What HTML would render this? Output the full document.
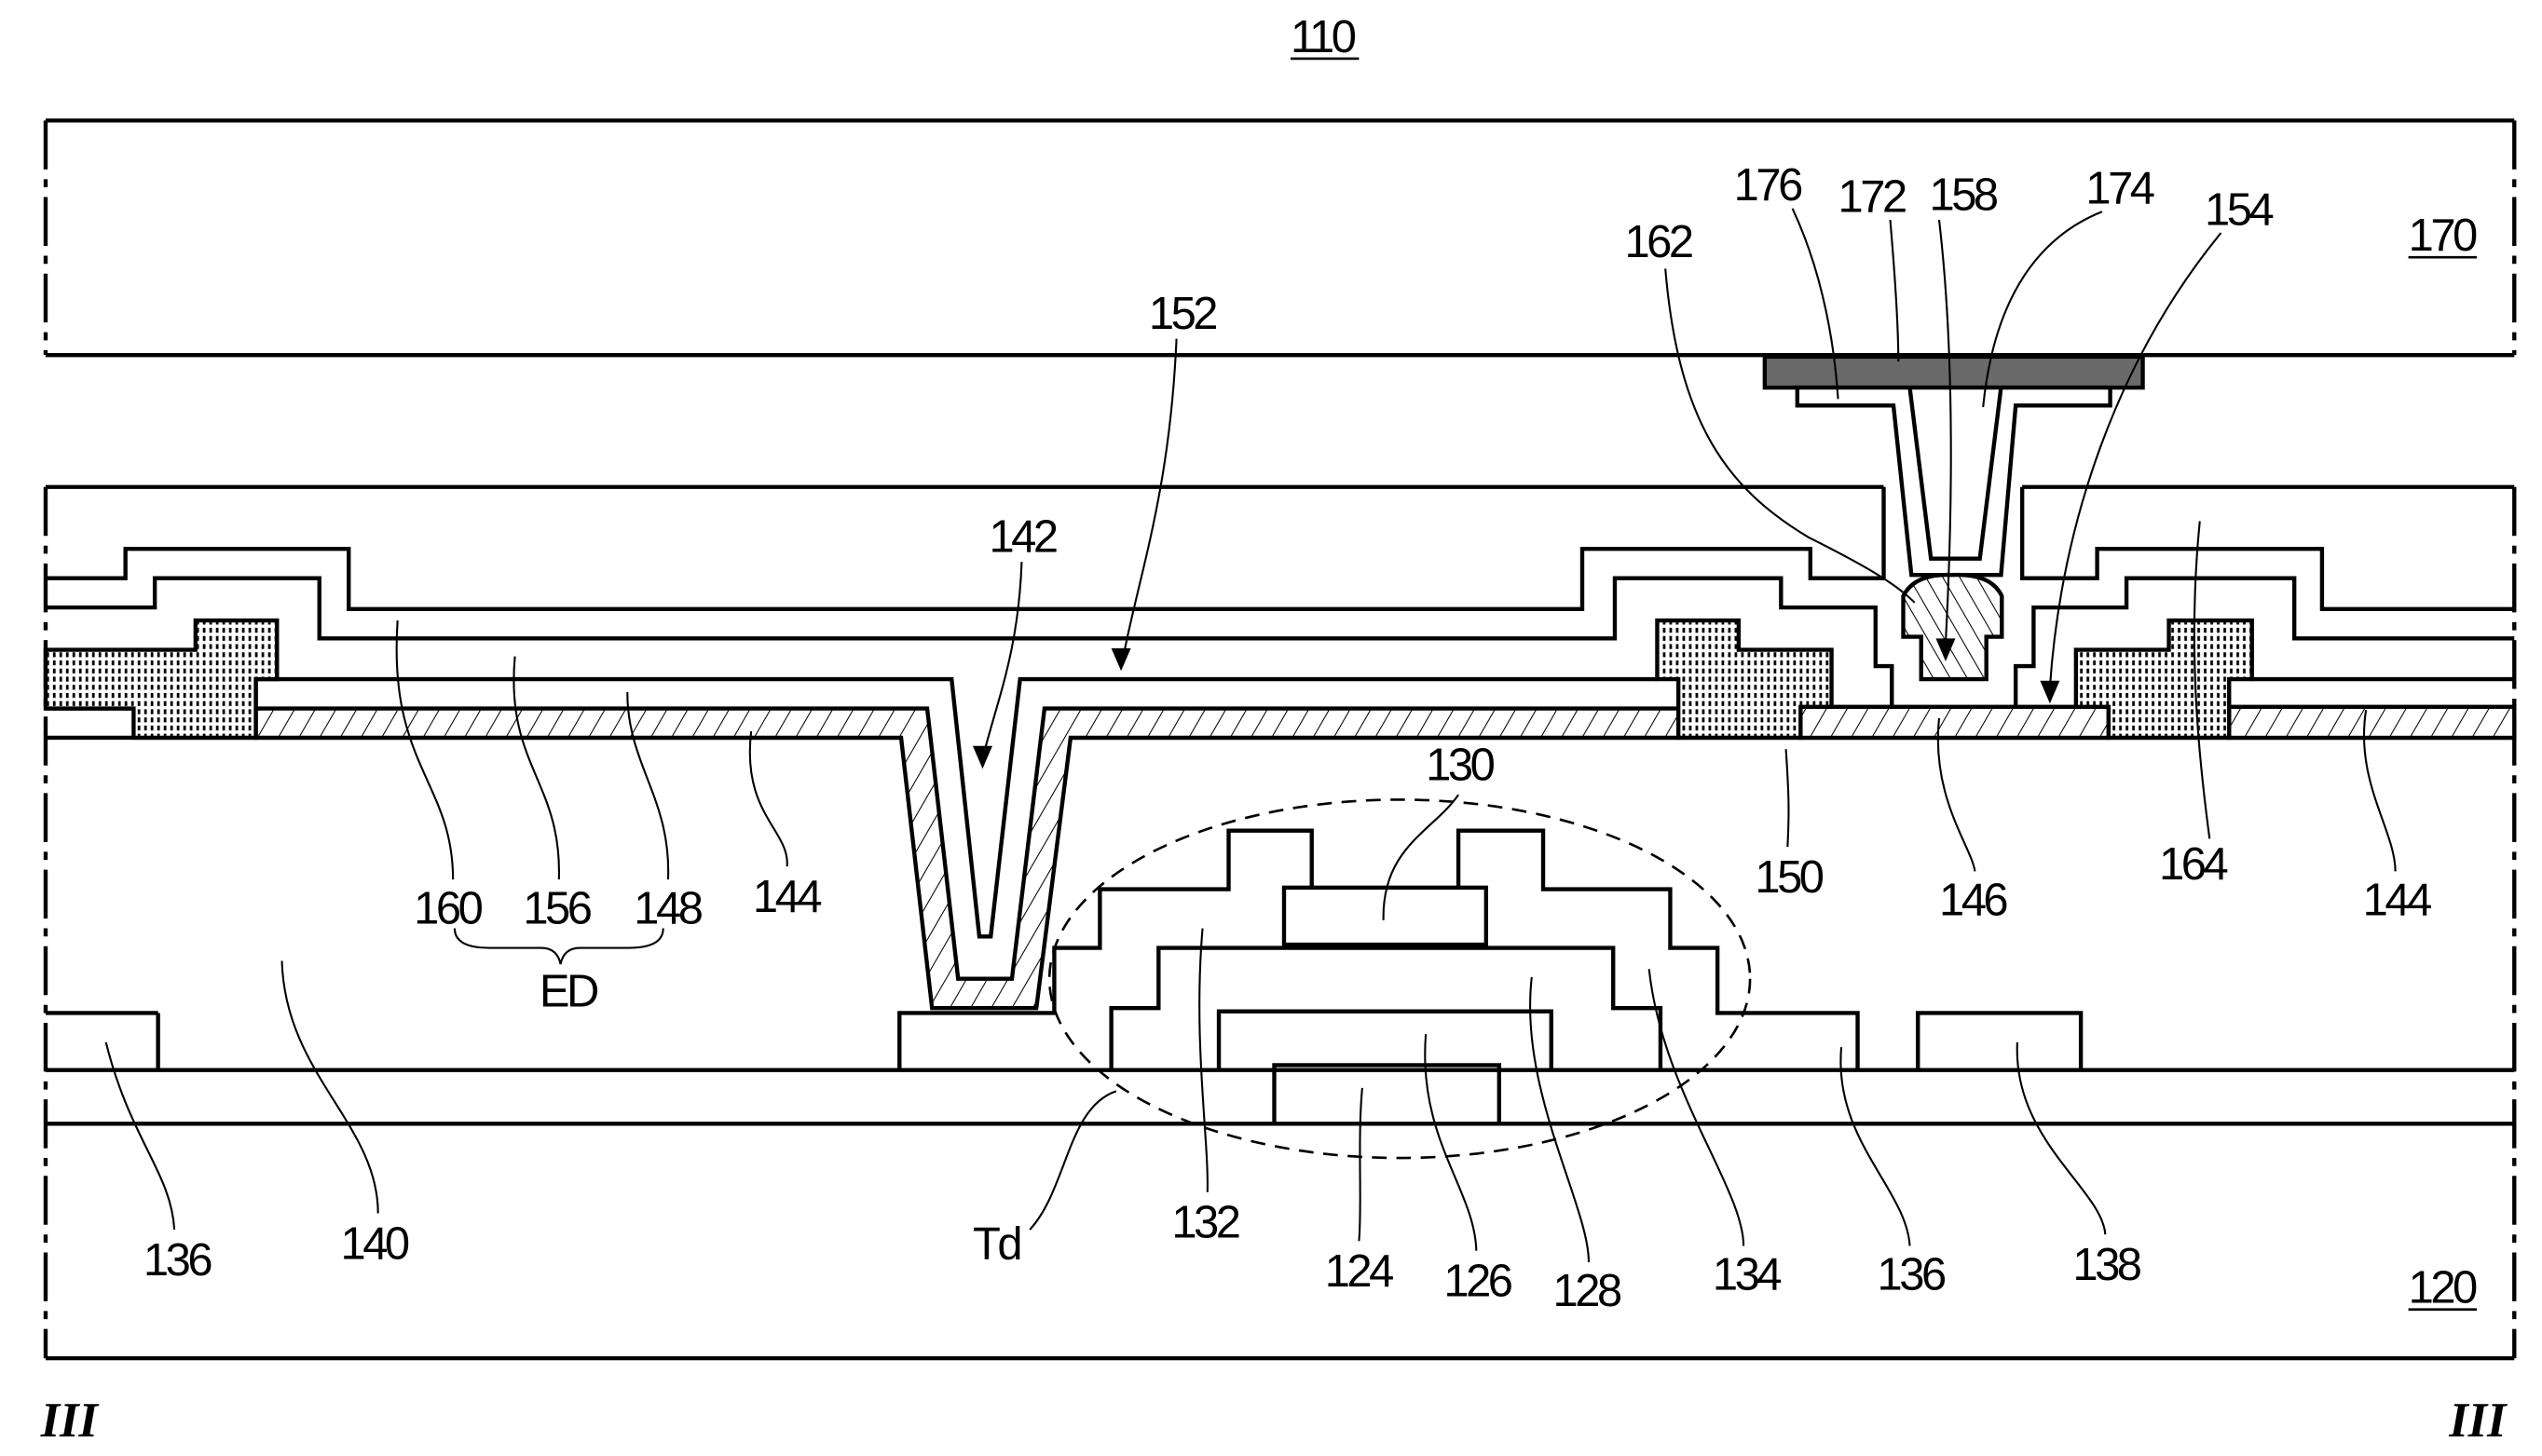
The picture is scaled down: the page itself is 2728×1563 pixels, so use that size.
<!DOCTYPE html>
<html><head><meta charset="utf-8"><style>
html,body{margin:0;padding:0;background:#fff;}
svg{display:block;}
text{font-family:"Liberation Sans Narrow","Liberation Sans",sans-serif;font-size:28px;letter-spacing:-2px;fill:#000;}
.iii{font-family:"Liberation Serif",serif;font-style:italic;font-weight:bold;font-size:30px;letter-spacing:0;}
</style></head><body>
<svg width="2728" height="1563" viewBox="0 0 1560 894" preserveAspectRatio="none" xmlns="http://www.w3.org/2000/svg">
<defs>
<pattern id="h1" patternUnits="userSpaceOnUse" width="11" height="11" patternTransform="rotate(30)">
<rect width="11" height="11" fill="#fff"/><line x1="0" y1="0" x2="0" y2="11" stroke="#000" stroke-width="1.2"/></pattern>
<pattern id="h2" patternUnits="userSpaceOnUse" width="9" height="9" patternTransform="rotate(-30)">
<rect width="9" height="9" fill="#fff"/><line x1="0" y1="0" x2="0" y2="9" stroke="#000" stroke-width="1.2"/></pattern>
<pattern id="dots" patternUnits="userSpaceOnUse" width="4" height="5">
<rect width="4" height="5" fill="#fff"/><rect x="0.5" y="0.5" width="1.6" height="3" fill="#000"/></pattern>
</defs>
<rect width="1560" height="894" fill="#fff"/>
<g fill="none" stroke="#000" stroke-width="2.5">
<line x1="28" y1="74" x2="1543" y2="74"/>
<line x1="28" y1="218" x2="1543" y2="218"/>
<line x1="28" y1="74" x2="28" y2="218" stroke-dasharray="30,6,5,6"/>
<line x1="1543" y1="74" x2="1543" y2="218" stroke-dasharray="30,6,5,6"/>
<polyline points="1156,299 28,299"/>
<polyline points="1241,299 1543,299"/>
<line x1="28" y1="834" x2="1543" y2="834"/>
<line x1="28" y1="299" x2="28" y2="834" stroke-dasharray="30,6,5,6"/>
<line x1="1543" y1="299" x2="1543" y2="834" stroke-dasharray="30,6,5,6"/>
<line x1="28" y1="657" x2="1543" y2="657"/>
<line x1="28" y1="690" x2="1543" y2="690"/>
<polyline points="28,355 77,355 77,337 214,337 214,374 971,374 971,337 1111,337 1111,355 1156,355 1156,299"/>
<polyline points="1241,299 1241,355 1287,355 1287,337 1425,337 1425,374 1543,374"/>
<polyline points="28,373 95,373 95,355 196,355 196,392 991,392 991,355 1093,355 1093,373 1151,373 1151,409 1161,409 1161,434"/>
<polyline points="1237,434 1237,409 1248,409 1248,373 1305,373 1305,355 1408,355 1408,392 1543,392"/>
<polyline points="157,435 157,417 584,417 601,575 608,575 626,417 1017,417"/>
<polyline points="1382,417 1543,417"/>
<polyline points="28,435 82,435"/>
<polyline points="28,453 553,453"/>
<polyline points="657,453 1543,453"/>
</g>
<rect x="1083" y="219" width="232" height="19" fill="#6a6a6a" stroke="#000" stroke-width="2.5"/>
<polygon points="1103,238 1103,249 1162,249 1173,353 1228,353 1237,249 1295,249 1295,238" fill="#fff" stroke="#000" stroke-width="2.5"/>
<polyline points="1172,238 1185,343 1215,343 1228,238" fill="none" stroke="#000" stroke-width="2.5"/>
<path d="M1168,391 V366 Q1175,352 1198,353 Q1222,352 1228.5,366 V391 H1219 V417 H1179 V391 Z" fill="url(#h2)" stroke="#000" stroke-width="2.5"/>
<polygon points="157,435 569,435 588,601 621,601 641,435 1030,435 1030,453 657,453 636,619 572,619 553,453 157,453" fill="url(#h1)" stroke="#000" stroke-width="2.5"/>
<rect x="1105" y="434" width="189" height="19" fill="url(#h1)" stroke="#000" stroke-width="2.5"/>
<rect x="1368" y="434" width="175" height="19" fill="url(#h1)" stroke="#000" stroke-width="2.5"/>
<polygon points="28,399 120,399 120,381 170,381 170,417 157,417 157,453 82,453 82,435 28,435" fill="url(#dots)" stroke="#000" stroke-width="2.5"/>
<polygon points="1017,381 1067,381 1067,399 1124,399 1124,434 1105,434 1105,453 1030,453 1030,417 1017,417" fill="url(#dots)" stroke="#000" stroke-width="2.5"/>
<polygon points="1331,381 1382,381 1382,417 1368,417 1368,453 1294,453 1294,434 1274,434 1274,399 1331,399" fill="url(#dots)" stroke="#000" stroke-width="2.5"/>
<g fill="none" stroke="#000" stroke-width="2.5">
<polyline points="552,657 552,622 647,622 647,582 675,582 675,546 754,546 754,510 805,510 805,545"/>
<rect x="788" y="545" width="124" height="35" fill="#fff"/>
<polyline points="895,545 895,510 947,510 947,546 1025,546 1025,582 1054,582 1054,622 1140,622 1140,657"/>
<polyline points="1177,657 1177,622 1277,622 1277,657"/>
<polyline points="682,657 682,619 711,619 711,582 990,582 990,619 1019,619 1019,657"/>
<polyline points="748,657 748,621 952,621 952,657"/>
<polyline points="782,690 782,654 920,654 920,690"/>
<ellipse cx="859" cy="601" rx="215" ry="110" stroke-width="1.5" stroke-dasharray="9,6"/>
<line x1="28" y1="622" x2="97" y2="622"/><line x1="97" y1="622" x2="97" y2="657"/>
</g>
<g fill="none" stroke="#000" stroke-width="1.2">
<path d="M722,208 C718,300 700,350 690,400"/>
<path d="M627,345 C625,400 612,430 604,462"/>
<path d="M1100,128 C1115,160 1125,200 1128,245"/>
<path d="M1160,135 C1163,170 1165,200 1165,222"/>
<path d="M1190,135 C1200,220 1198,320 1194,395"/>
<path d="M1290,130 C1240,150 1222,200 1217,250"/>
<path d="M1363,143 C1300,220 1265,320 1258,422"/>
<path d="M1022,165 C1030,260 1060,300 1110,330 C1150,350 1165,360 1175,370"/>
<path d="M1350,320 C1342,400 1350,470 1356,515"/>
<path d="M1452,436 C1445,480 1470,510 1470,535"/>
<path d="M1190,441 C1185,490 1210,520 1212,535"/>
<path d="M1096,460 C1098,490 1098,500 1097,520"/>
<path d="M244,381 C238,470 278,480 278,540"/>
<path d="M316,403 C310,470 345,480 343,540"/>
<path d="M385,425 C385,470 412,490 410,540"/>
<path d="M461,449 C455,500 485,510 483,532"/>
<path d="M279,570 Q279,582 300,582 L332,582 Q342,582 344,592 Q346,582 356,582 L386,582 Q407,582 407,570"/>
<path d="M173,590 C175,660 232,690 232,745"/>
<path d="M65,640 C80,700 105,720 107,755"/>
<path d="M685,670 C655,680 655,730 632,755"/>
<path d="M738,570 C732,640 742,700 741,732"/>
<path d="M836,668 C833,700 836,740 834,762"/>
<path d="M875,635 C870,700 905,730 906,768"/>
<path d="M940,600 C932,670 975,740 975,775"/>
<path d="M1012,595 C1020,670 1070,730 1070,765"/>
<path d="M1130,643 C1125,700 1170,730 1172,765"/>
<path d="M1238,640 C1235,700 1290,730 1292,758"/>
<path d="M895,488 C880,510 848,520 849,565"/>
</g>
<g fill="#000">
<polygon points="682,398 694,398 688,412"/>
<polygon points="597,458 609,458 603,472"/>
<polygon points="1188,392 1200,392 1194,406"/>
<polygon points="1252,418 1264,418 1258,432"/>
</g>
<text x="792" y="32">110</text><line x1="792" y1="36" x2="834" y2="36" stroke="#000" stroke-width="1.5"/>
<text x="1478" y="154">170</text><line x1="1478" y1="158" x2="1520" y2="158" stroke="#000" stroke-width="1.5"/>
<text x="1478" y="800">120</text><line x1="1478" y1="804" x2="1520" y2="804" stroke="#000" stroke-width="1.5"/>
<text x="705" y="202">152</text>
<text x="607" y="339">142</text>
<text x="1064" y="123">176</text>
<text x="1128" y="130">172</text>
<text x="1184" y="129">158</text>
<text x="1280" y="125">174</text>
<text x="1353" y="138">154</text>
<text x="997" y="158">162</text>
<text x="875" y="479">130</text>
<text x="1325" y="540">164</text>
<text x="1450" y="562">144</text>
<text x="1190" y="562">146</text>
<text x="1077" y="548">150</text>
<text x="254" y="567">160</text>
<text x="321" y="567">156</text>
<text x="389" y="567">148</text>
<text x="462" y="560">144</text>
<text x="331" y="618">ED</text>
<text x="209" y="773">140</text>
<text x="88" y="783">136</text>
<text x="597" y="773">Td</text>
<text x="719" y="760">132</text>
<text x="813" y="790">124</text>
<text x="886" y="796">126</text>
<text x="953" y="802">128</text>
<text x="1051" y="792">134</text>
<text x="1152" y="792">136</text>
<text x="1272" y="786">138</text>
<text class="iii" x="25" y="882">III</text>
<text class="iii" x="1503" y="882">III</text>
</svg>
</body></html>
